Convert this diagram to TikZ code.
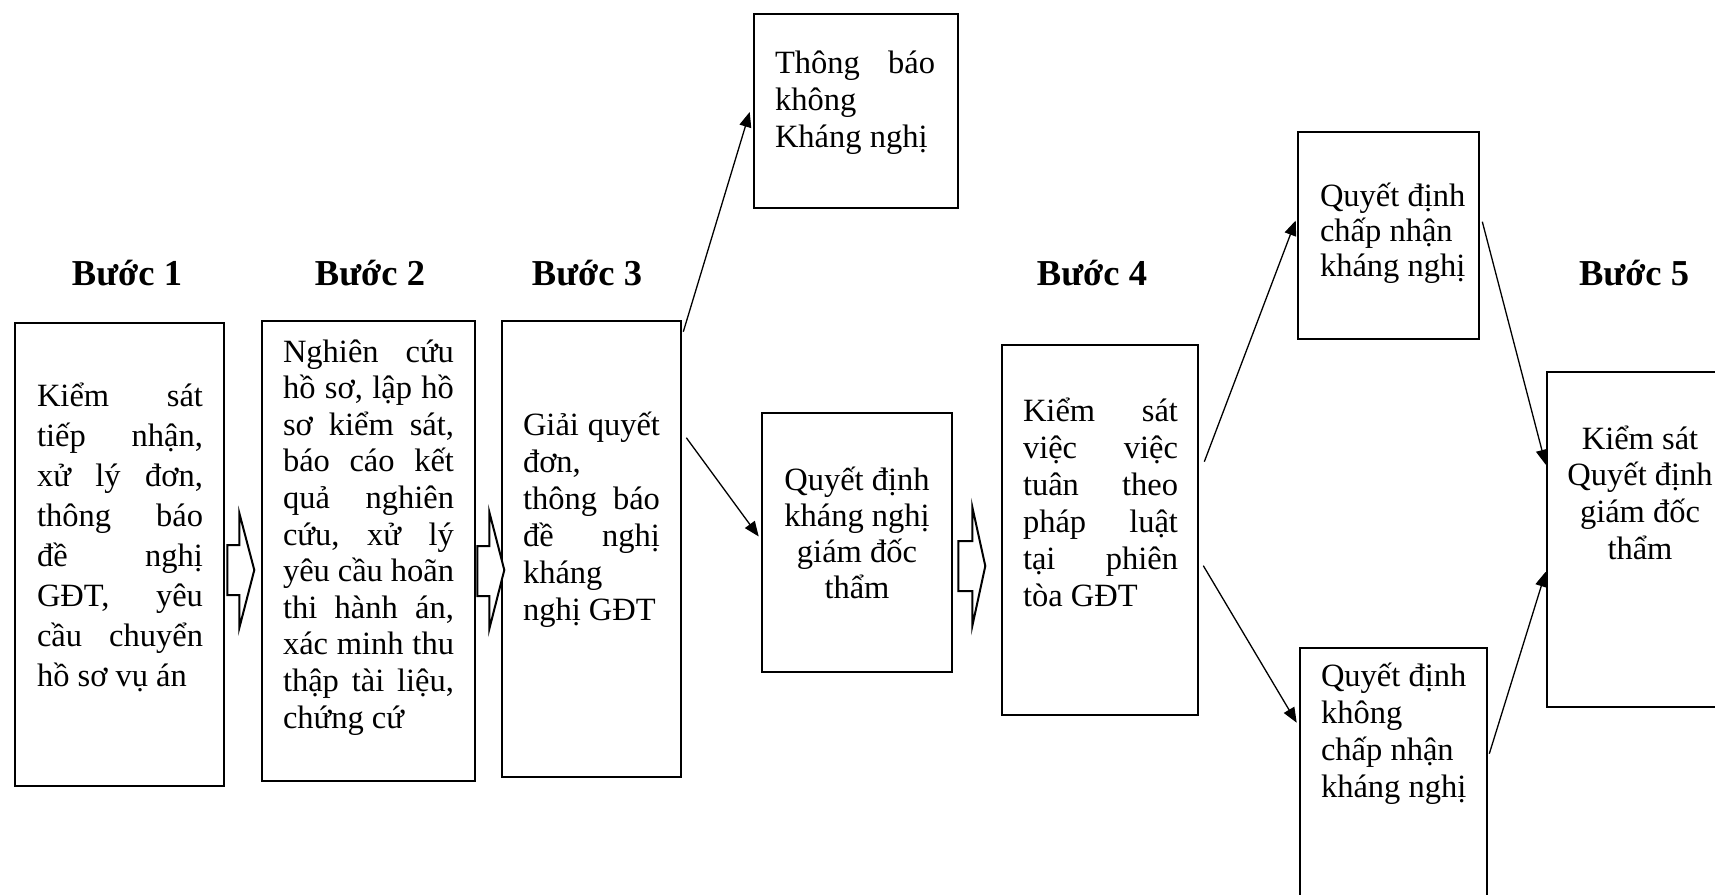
\documentclass[tikz,border=0pt]{standalone}
\usepackage{fontspec}
\setmainfont{Liberation Serif}
\usetikzlibrary{arrows.meta,calc}
\newcommand\Ln[1]{\hbox to\linewidth{#1\hfil}}
\newcommand\Lc[1]{\hbox to\linewidth{\hfil#1\hfil}}
\newcommand\body[2]{\fontsize{32.5}{#1}\selectfont\lineskiplimit=-100pt\relax #2}
\tikzset{
  box/.style={draw=black, line width=2.6pt, fill=none, inner sep=0pt},
  txt/.style={inner sep=0pt, outer sep=0pt},
  head/.style={inner sep=0pt, anchor=base, font=\fontsize{36.5}{40}\selectfont\bfseries},
  thin/.style={draw=black, line width=1.3pt, -{Triangle[length=15pt,width=12pt]}},
  blk/.style={draw=black, line width=2pt, line join=miter, fill=white}
}
\begin{document}
\begin{tikzpicture}[x=1pt,y=-1pt]
\useasboundingbox (0,0) rectangle (1715,894);
\clip (0,0) rectangle (1715,894);
\fill[white] (0,0) rectangle (1715,894);

% headings
\node[head] (h1) at (127,285) {Bước 1};
\node[head] (h2) at (370,285) {Bước 2};
\node[head] (h3) at (587,285) {Bước 3};
\node[head] (h4) at (1092,285) {Bước 4};
\node[head] (h5) at (1634,285) {Bước 5};

% boxes
\node[box, minimum width=209pt, minimum height=463pt] (b1) at (119.5,554.5) {};
\node[box, minimum width=213pt, minimum height=460pt] (b2) at (368.5,551) {};
\node[box, minimum width=179pt, minimum height=456pt] (b3) at (591.5,549) {};
\node[box, minimum width=204pt, minimum height=194pt] (tb) at (856,111) {};
\node[box, minimum width=190pt, minimum height=259pt] (kn) at (857,542.5) {};
\node[box, minimum width=196pt, minimum height=370pt] (b4) at (1100,530) {};
\node[box, minimum width=181pt, minimum height=207pt] (cn) at (1388.5,235.5) {};
\node[box, minimum width=187pt, minimum height=262pt] (kcn) at (1393.5,779) {};
\node[box, minimum width=188pt, minimum height=335pt] (b5) at (1641,539.5) {};

% texts
\node[txt, anchor=base west] (t1) at (37,406) {\parbox[t]{166pt}{\body{40}{%
\Ln{Kiểm\hfill sát}
\Ln{tiếp\hfill nhận,}
\Ln{xử\hfill lý\hfill đơn,}
\Ln{thông\hfill báo}
\Ln{đề\hfill nghị}
\Ln{GĐT,\hfill yêu}
\Ln{cầu\hfill chuyển}
\Ln{hồ sơ vụ án}}}};

\node[txt, anchor=base west] (t2) at (283,362) {\parbox[t]{171pt}{\body{36.6}{%
\Ln{Nghiên\hfill cứu}
\Ln{hồ\hfill sơ,\hfill lập\hfill hồ}
\Ln{sơ\hfill kiểm\hfill sát,}
\Ln{báo\hfill cáo\hfill kết}
\Ln{quả\hfill nghiên}
\Ln{cứu,\hfill xử\hfill lý}
\Ln{yêu\hfill cầu\hfill hoãn}
\Ln{thi\hfill hành\hfill án,}
\Ln{xác\hfill minh\hfill thu}
\Ln{thập\hfill tài\hfill liệu,}
\Ln{chứng cứ}}}};

\node[txt, anchor=base west] (t3) at (523,435) {\parbox[t]{137pt}{\body{37}{%
\Ln{Giải\hfill quyết}
\Ln{đơn,}
\Ln{thông\hfill báo}
\Ln{đề\hfill nghị}
\Ln{kháng}
\Ln{nghị GĐT}}}};

\node[txt, anchor=base west] (ttb) at (775,73) {\parbox[t]{160pt}{\body{37}{%
\Ln{Thông\hfill báo}
\Ln{không}
\Ln{Kháng nghị}}}};

\node[txt, anchor=base] (tkn) at (857,490) {\parbox[t]{180pt}{\body{36}{%
\Lc{Quyết định}
\Lc{kháng nghị}
\Lc{giám đốc}
\Lc{thẩm}}}};

\node[txt, anchor=base west] (t4) at (1023,421) {\parbox[t]{155pt}{\body{37}{%
\Ln{Kiểm\hfill sát}
\Ln{việc\hfill việc}
\Ln{tuân\hfill theo}
\Ln{pháp\hfill luật}
\Ln{tại\hfill phiên}
\Ln{tòa GĐT}}}};

\node[txt, anchor=base west] (tcn) at (1320,206) {\parbox[t]{160pt}{\body{35}{%
\Ln{Quyết định}
\Ln{chấp nhận}
\Ln{kháng nghị}}}};

\node[txt, anchor=base west] (tkcn) at (1321,686) {\parbox[t]{160pt}{\body{37}{%
\Ln{Quyết định}
\Ln{không}
\Ln{chấp nhận}
\Ln{kháng nghị}}}};

\node[txt, anchor=base] (t5) at (1640,449) {\parbox[t]{180pt}{\body{36.7}{%
\Lc{Kiểm sát}
\Lc{Quyết định}
\Lc{giám đốc}
\Lc{thẩm}}}};

% block arrows
\draw[blk] ($(b1.east)+(2,-9.5)$) coordinate (p1)
  -- ++(12,0) -- ++(0,-32) -- ++(15,57) -- ++(-15,58) -- ++(0,-33) -- ++(-12,0) -- cycle;
\draw[blk] ($(b2.east)+(1,-5)$) coordinate (p2)
  -- ++(12,0) -- ++(0,-34) -- ++(15,58) -- ++(-15,59) -- ++(0,-33) -- ++(-12,0) -- cycle;
\draw[blk] ($(kn.east)+(5,-1.5)$) coordinate (p3)
  -- ++(14,0) -- ++(0,-34) -- ++(13,59) -- ++(-13,60) -- ++(0,-35) -- ++(-14,0) -- cycle;

% thin arrows
\draw[thin] ($(b3.north east)+(1,12)$) -- ($(tb.west)+(-3,1)$);
\draw[thin] ($(b3.north east)+(4,118)$) -- ($(kn.west)+(-2,-6)$);
\draw[thin] ($(b4.north east)+(5,118)$) -- ($(cn.west)+(-1,-15)$);
\draw[thin] ($(b4.north east)+(4,222)$) -- ($(kcn.north west)+(-2,76)$);
\draw[thin] ($(cn.north east)+(2,91)$) -- ($(b5.north west)+(0,94)$);
\draw[thin] ($(kcn.north east)+(1,107)$) -- ($(b5.north west)+(0,201)$);
\end{tikzpicture}
\end{document}
